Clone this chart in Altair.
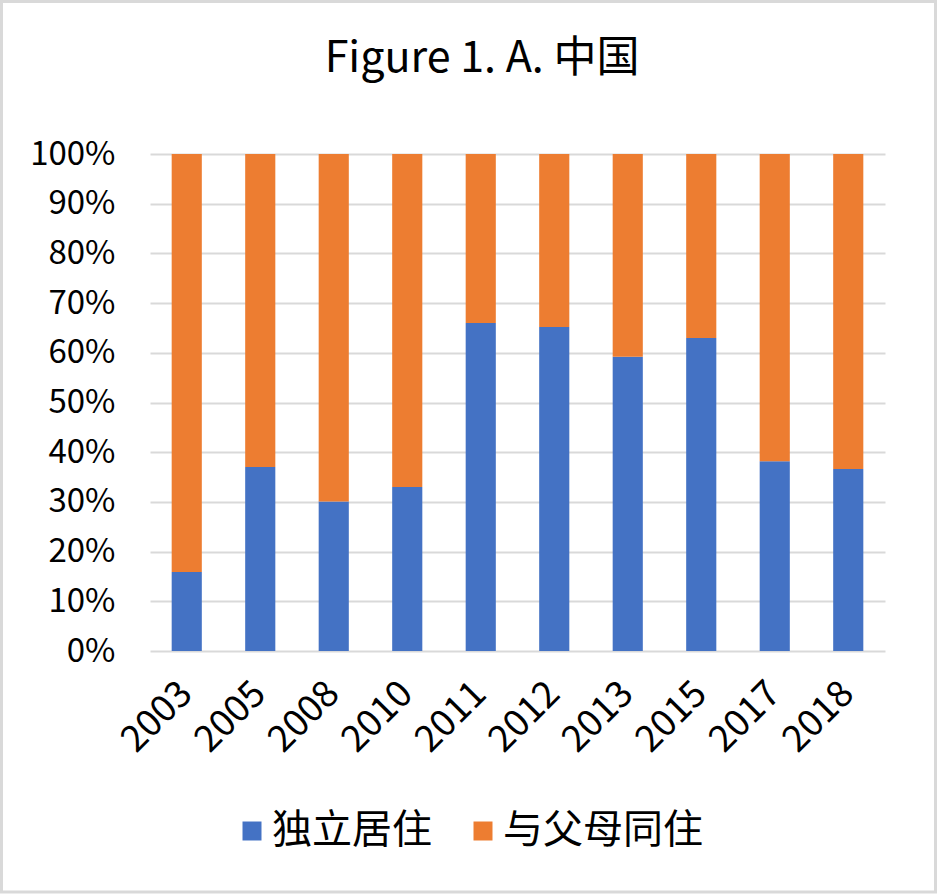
import altair as alt
import pandas as pd

years = ["2003", "2005", "2008", "2010", "2011", "2012", "2013", "2015", "2017", "2018"]
independent = [15.9, 37.0, 30.1, 33.0, 66.0, 65.2, 59.2, 63.0, 38.2, 36.6]
with_parents = [84.1, 63.0, 69.9, 67.0, 34.0, 34.8, 40.8, 37.0, 61.8, 63.4]
series = ["独立居住", "与父母同住"]
colors = ["#4472C4", "#ED7D31"]
title_text = "Figure 1. A. 中国"

rows = []
for i, y in enumerate(years):
    rows.append({"year": y, "series": series[0], "value": independent[i] / 100, "ord": 0})
    rows.append({"year": y, "series": series[1], "value": with_parents[i] / 100, "ord": 1})
df = pd.DataFrame(rows)

FONT = "Noto Sans CJK SC"

bars = alt.Chart(df).mark_bar().encode(
    x=alt.X("year:N", sort=years, title=None,
            scale=alt.Scale(paddingInner=0.59, paddingOuter=0.295),
            axis=alt.Axis(labelAngle=-45, labelFontSize=37, labelFont=FONT,
                          labelColor="#000000", ticks=False, domain=False,
                          labelPadding=24, labelOffset=-13, grid=False)),
    y=alt.Y("value:Q", stack="zero", title=None,
            scale=alt.Scale(domain=[0, 1]),
            axis=alt.Axis(format=".0%", values=[i / 10 for i in range(11)],
                          labelFontSize=33, labelFont=FONT, labelColor="#000000",
                          ticks=False, domain=False, labelPadding=35,
                          gridColor="#d9d9d9", gridWidth=2)),
    color=alt.Color("series:N", sort=series,
                    scale=alt.Scale(domain=series, range=colors),
                    legend=alt.Legend(title=None, orient="none", direction="horizontal",
                                      legendX=82, legendY=657,
                                      symbolType="square", symbolSize=361,
                                      symbolStrokeWidth=0,
                                      labelFontSize=40, labelFont=FONT,
                                      labelColor="#000000", labelOffset=0,
                                      columnPadding=31, labelLimit=400)),
    order=alt.Order("ord:Q", sort="ascending"),
)

frame = alt.Chart(alt.Data(values=[{}])).mark_rect(
    fillOpacity=0, stroke="#d9d9d9", strokeWidth=3
).encode(
    x=alt.value(-148.5), x2=alt.value(785.5),
    y=alt.value(-152.5), y2=alt.value(738)
)

title = alt.Chart(alt.Data(values=[{"t": title_text}])).mark_text(
    font=FONT, fontSize=43, color="#000000", align="center", baseline="alphabetic"
).encode(
    text="t:N", x=alt.value(332), y=alt.value(-82)
)

chart = alt.layer(frame, title, bars).properties(
    width=735, height=497,
    padding={"left": 150, "top": 154, "right": 52, "bottom": 243},
    autosize=alt.AutoSizeParams(type="none"),
    background="white",
).configure_view(stroke=None)

chart.save("out.html", embed_options={"renderer": "svg", "actions": False})
